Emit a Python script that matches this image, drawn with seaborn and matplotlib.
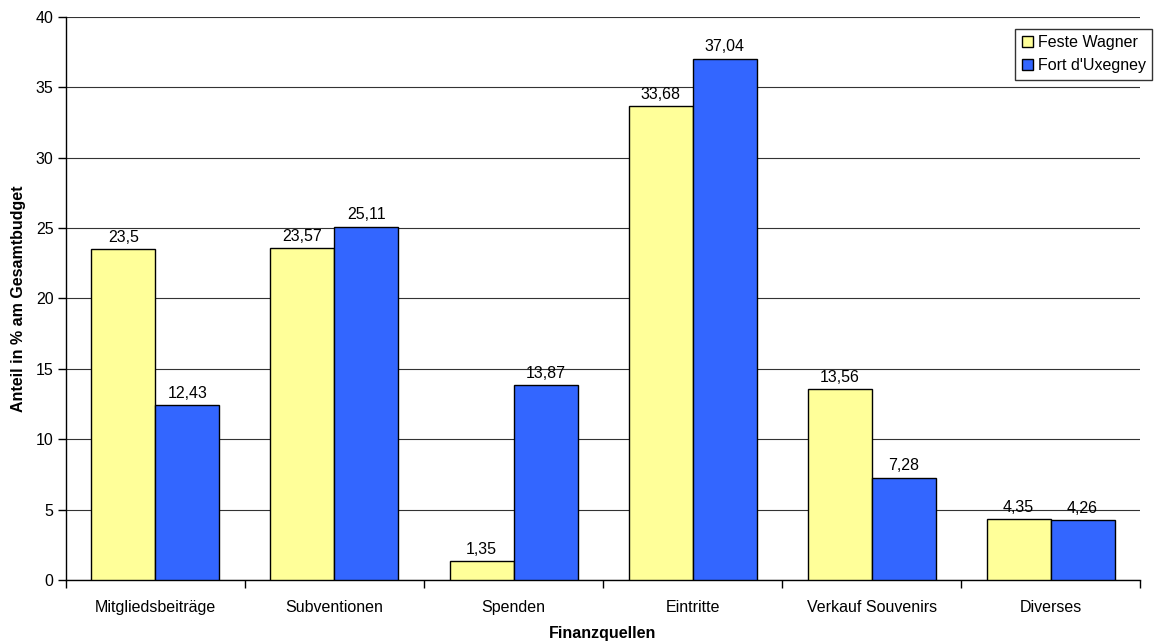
import pandas as pd
import matplotlib.pyplot as plt
import seaborn as sns

# Daten aus dem Diagramm
kategorien = ['Mitgliedsbeiträge', 'Subventionen', 'Spenden', 'Eintritte',
              'Verkauf Souvenirs', 'Diverses']
feste_wagner = [23.5, 23.57, 1.35, 33.68, 13.56, 4.35]
fort_uxegney = [12.43, 25.11, 13.87, 37.04, 7.28, 4.26]
serien = ['Feste Wagner', "Fort d'Uxegney"]

df = pd.DataFrame({
    'Finanzquelle': kategorien * 2,
    'Anteil': feste_wagner + fort_uxegney,
    'Serie': [serien[0]] * len(kategorien) + [serien[1]] * len(kategorien),
})

sns.set_style('white')
plt.rcParams['font.family'] = ['Liberation Sans', 'DejaVu Sans']
plt.rcParams['text.color'] = 'black'
plt.rcParams['axes.labelcolor'] = 'black'
plt.rcParams['xtick.color'] = 'black'
plt.rcParams['ytick.color'] = 'black'

fig = plt.figure(figsize=(11.55, 6.41), dpi=100)
ax = fig.add_axes([0.0571, 0.0952, 0.930, 0.8783])

farben = {'Feste Wagner': '#FFFF99', "Fort d'Uxegney": '#3366FF'}
ax = sns.barplot(data=df, x='Finanzquelle', y='Anteil', hue='Serie',
                 palette=farben, width=0.715, edgecolor='black', linewidth=1,
                 saturation=1, ax=ax, zorder=3)

# Beschriftungen über den Balken
for container in ax.containers:
    labels = [f'{v:g}'.replace('.', ',') for v in container.datavalues]
    ax.bar_label(container, labels=labels, padding=3, fontsize=11.5)

ax.set_ylim(0, 40)
ax.set_xlim(-0.5, len(kategorien) - 0.5)
ax.set_yticks(range(0, 41, 5))
ax.yaxis.grid(True, color='#333333', linewidth=0.8, zorder=0)
ax.set_axisbelow(True)

# Ticks zwischen den Kategorien
ax.set_xticks([i - 0.5 for i in range(len(kategorien) + 1)], minor=True)
ax.tick_params(axis='x', which='major', bottom=False, labelsize=11.5, pad=11)
ax.tick_params(axis='x', which='minor', bottom=True, length=6, width=1, direction='out')
ax.tick_params(axis='y', left=True, length=6, width=1, direction='out', labelsize=11.5, pad=3)

for s in ['top', 'right']:
    ax.spines[s].set_visible(False)
for s in ['left', 'bottom']:
    ax.spines[s].set_color('black')
    ax.spines[s].set_linewidth(1)

ax.set_xlabel('Finanzquellen', fontsize=11.5, fontweight='bold', labelpad=8)
ax.set_ylabel('Anteil in % am Gesamtbudget', fontsize=11.5, fontweight='bold', labelpad=7)

leg = ax.legend(loc='upper right', bbox_to_anchor=(1.011, 0.979), fontsize=11.5,
                frameon=True, fancybox=False, edgecolor='black', handlelength=0.7,
                handleheight=0.7, handletextpad=0.3, borderpad=0.4, labelspacing=0.5,
                borderaxespad=0)
leg.get_frame().set_linewidth(1)

plt.savefig('out.png', dpi=100)
